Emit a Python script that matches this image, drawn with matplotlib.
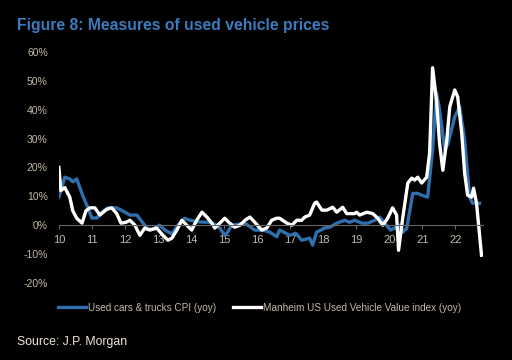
import matplotlib.pyplot as plt
import numpy as np

# Used cars & trucks CPI (yoy), decimal years (10 = 2010) and % values
cpi_x = [10.00, 10.18, 10.33, 10.42, 10.54, 10.73, 10.88, 11.00, 11.15, 11.30,
         11.48, 11.75, 12.00, 12.15, 12.36, 12.66, 12.81, 13.05, 13.21, 13.42,
         13.60, 13.81, 13.96, 14.26, 14.57, 14.72, 14.87, 15.02, 15.11, 15.23,
         15.63, 15.93, 16.17, 16.38, 16.59, 16.68, 16.99, 17.17, 17.35, 17.59,
         17.68, 17.80, 18.05, 18.20, 18.41, 18.65, 18.80, 18.95, 19.17, 19.35,
         19.56, 19.71, 19.86, 20.04, 20.16, 20.31, 20.41, 20.53, 20.71, 20.86,
         20.98, 21.16, 21.31, 21.43, 21.52, 21.68, 21.77, 21.98, 22.13, 22.28,
         22.43, 22.52, 22.73]
cpi_y = [9.7, 16.6, 16.0, 15.0, 16.0, 10.0, 6.0, 2.5, 2.5, 4.5,
         6.0, 6.0, 4.5, 3.5, 3.5, -1.0, -1.5, 0.0, -1.7, -3.0,
         0.0, 2.4, 1.7, 1.1, 1.0, 0.3, -1.0, -3.5, -2.4, 0.0,
         0.7, -1.7, -1.7, -2.4, -4.0, -1.7, -3.5, -2.8, -5.2, -4.5,
         -6.9, -2.4, -1.0, -0.7, 0.7, 1.7, 1.0, 1.7, 0.7, 0.7,
         1.7, 2.8, 0.7, -1.7, -1.0, 0.0, -2.4, -1.0, 11.0, 11.0,
         10.4, 9.7, 26.0, 45.8, 40.0, 26.0, 28.0, 37.5, 41.0, 29.5,
         9.7, 7.6, 7.6]

# Manheim US Used Vehicle Value index (yoy)
man_x = [10.00, 10.06, 10.18, 10.33, 10.42, 10.54, 10.70, 10.82, 10.94, 11.09,
         11.24, 11.45, 11.60, 11.75, 11.88, 12.03, 12.15, 12.30, 12.45, 12.60,
         12.75, 12.96, 13.15, 13.30, 13.42, 13.57, 13.72, 13.87, 14.02, 14.17,
         14.33, 14.48, 14.63, 14.72, 14.87, 15.02, 15.17, 15.32, 15.48, 15.63,
         15.78, 15.93, 16.14, 16.29, 16.44, 16.59, 16.68, 16.90, 17.05, 17.20,
         17.35, 17.44, 17.59, 17.74, 17.80, 17.96, 18.11, 18.29, 18.41, 18.59,
         18.71, 18.95, 19.01, 19.10, 19.32, 19.50, 19.65, 19.80, 19.95, 20.10,
         20.22, 20.28, 20.41, 20.56, 20.68, 20.77, 20.86, 20.98, 21.13, 21.22,
         21.31, 21.43, 21.52, 21.62, 21.74, 21.83, 21.98, 22.07, 22.19, 22.28,
         22.37, 22.49, 22.55, 22.64, 22.79]
man_y = [20.0, 12.0, 13.0, 9.7, 5.0, 2.4, 0.7, 5.0, 6.0, 6.0,
         3.5, 5.5, 6.0, 4.0, 0.7, 1.0, 1.7, 0.0, -3.5, -1.0,
         -1.7, -1.0, -3.5, -5.2, -4.5, -1.7, 1.7, 0.0, -1.7, 1.7,
         4.5, 2.8, 0.7, -1.0, 0.7, 2.4, 0.7, -0.7, 0.0, 1.7,
         2.8, 1.0, -1.7, -1.0, 1.7, 2.4, 2.4, 0.7, 0.0, 1.7,
         1.7, 2.8, 3.5, 7.6, 8.0, 5.2, 5.2, 6.2, 4.5, 6.2,
         4.0, 4.0, 4.5, 3.5, 4.5, 4.0, 2.4, 0.0, 2.4, 6.0,
         3.5, -8.7, 2.8, 14.6, 16.3, 15.6, 16.6, 14.6, 16.6, 25.0,
         54.5, 43.0, 28.4, 19.0, 29.5, 41.0, 46.8, 44.4, 32.0, 18.0,
         10.4, 9.7, 12.8, 7.6, -10.4]

year_ticks = list(range(10, 23))
pct_ticks = [-20, -10, 0, 10, 20, 30, 40, 50, 60]

blue = '#2f6fae'
label_col = '#c4b9a8'
plt.rcParams['font.family'] = ['Liberation Sans', 'DejaVu Sans']

fig = plt.figure(figsize=(5.12, 3.6), dpi=100, facecolor='black')
ax = fig.add_axes([0.115, 0.214, 0.828, 0.642], facecolor='black')

ax.plot(cpi_x, cpi_y, color=blue, lw=2.4, label='Used cars & trucks CPI (yoy)')
ax.plot(man_x, man_y, color='white', lw=2.4, label='Manheim US Used Vehicle Value index (yoy)')

ax.set_xlim(10, 22.83)
ax.set_ylim(-20, 60)
ax.set_xticks(year_ticks)
ax.set_xticklabels([str(t) for t in year_ticks])
ax.set_yticks(pct_ticks)
ax.set_yticklabels([f'{t}%' for t in pct_ticks])

for s in ['top', 'right', 'left']:
    ax.spines[s].set_visible(False)
ax.spines['bottom'].set_position(('data', 0))
ax.spines['bottom'].set_color('#666666')
ax.spines['bottom'].set_linewidth(0.8)
ax.tick_params(axis='x', colors=label_col, labelsize=8, length=3, width=0.8,
               color='#666666', pad=4)
ax.tick_params(axis='y', colors=label_col, labelsize=7.5, length=0, pad=8)
for lbl in ax.get_xticklabels():
    lbl.set_x(lbl.get_position()[0])

fig.text(0.033, 0.93, 'Figure 8: Measures of used vehicle prices', color='#3b7bbd',
         fontsize=11.3, fontweight='bold', va='center')
fig.text(0.033, 0.05, 'Source: J.P. Morgan', color='#efe6d8', fontsize=8.8, va='center')

fig.legend(loc='center', bbox_to_anchor=(0.507, 0.145), ncol=2, frameon=False,
           fontsize=7.2, labelcolor=label_col, handlelength=2.8, handletextpad=0.2,
           columnspacing=1.6)

fig.savefig('out.png', dpi=100, facecolor='black')
